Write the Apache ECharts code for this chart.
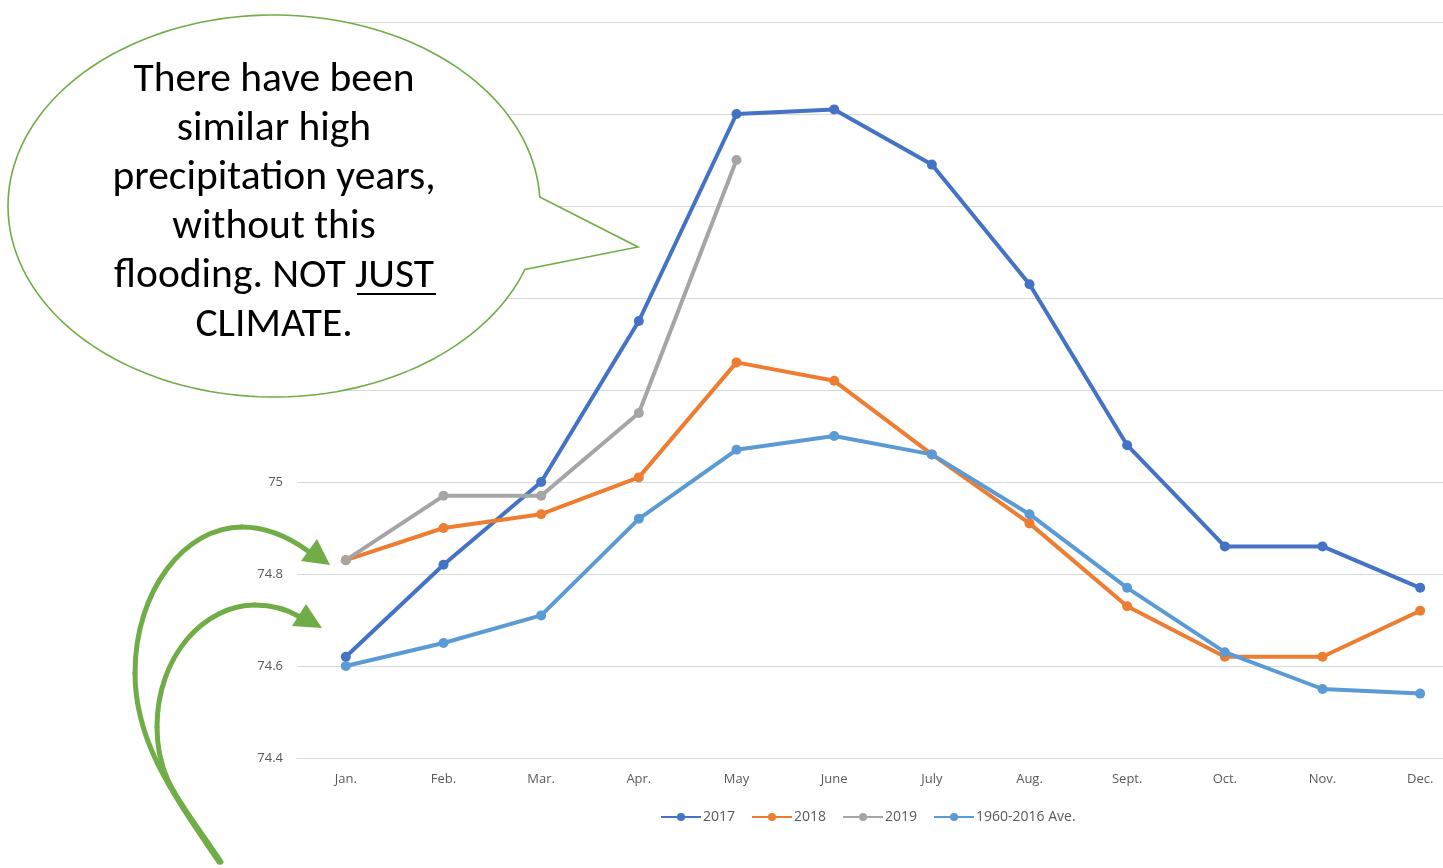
<!DOCTYPE html>
<html>
<head>
<meta charset="utf-8">
<title>Monthly levels 2017–2019 vs 1960–2016 average</title>
<script src="https://cdn.jsdelivr.net/npm/echarts@6/dist/echarts.min.js"></script>
<style>
  html, body { margin: 0; padding: 0; background: #ffffff; overflow: hidden; width: 1443px; height: 868px; }
  /* the plot runs a little past the right edge of the page */
  #chart { width: 1469px; height: 868px; }
</style>
</head>
<body>
<div id="chart"></div>
<script>
// Month categories along the x axis
const months = ['Jan.', 'Feb.', 'Mar.', 'Apr.', 'May', 'June', 'July', 'Aug.', 'Sept.', 'Oct.', 'Nov.', 'Dec.'];

// Monthly values per series
const values2017 = [74.62, 74.82, 75.00, 75.35, 75.80, 75.81, 75.69, 75.43, 75.08, 74.86, 74.86, 74.77];
const values2018 = [74.83, 74.90, 74.93, 75.01, 75.26, 75.22, 75.06, 74.91, 74.73, 74.62, 74.62, 74.72];
const values2019 = [74.83, 74.97, 74.97, 75.15, 75.70, null, null, null, null, null, null, null];
const valuesAvg  = [74.60, 74.65, 74.71, 74.92, 75.07, 75.10, 75.06, 74.93, 74.77, 74.63, 74.55, 74.54];

// Series names and colours
const seriesNames = ['2017', '2018', '2019', '1960-2016 Ave.'];
const seriesColors = ['#4472C4', '#ED7D31', '#A5A5A5', '#5B9BD5'];
const seriesValues = [values2017, values2018, values2019, valuesAvg];

// Y axis range
const yMin = 74.4, yMax = 76.0, yStep = 0.2;

// Speech bubble text lines
const bubbleLines = ['There have been', 'similar high', 'precipitation years,', 'without this', 'flooding. NOT JUST', 'CLIMATE.'];

const chart = echarts.init(document.getElementById('chart'), null, { renderer: 'canvas' });

const green = '#70AD47';
const labelFont = '"Open Sans", "Noto Sans", sans-serif';
const bubbleFont = 'Carlito, "Open Sans", "Noto Sans", sans-serif';

const series = seriesNames.map((name, i) => ({
  name: name,
  type: 'line',
  data: seriesValues[i],
  symbol: 'circle',
  symbolSize: 10,
  showSymbol: true,
  connectNulls: false,
  lineStyle: { width: 4, color: seriesColors[i] },
  itemStyle: { color: seriesColors[i] },
  emphasis: { disabled: true },
  z: 2
}));

// Outline of the speech bubble: an ellipse arc plus a pointed tail
function bubbleOutline() {
  const cx = 274, cy = 206, rx = 266, ry = 191;
  const pts = [];
  // arc runs from the tail's upper joint, over the top, round to its lower joint
  const a0 = Math.atan2((197 - cy) / ry, (539 - cx) / rx);
  const a1 = Math.atan2((269 - cy) / ry, (523 - cx) / rx) - Math.PI * 2;
  const steps = 160;
  for (let k = 0; k <= steps; k++) {
    const a = a0 + (a1 - a0) * k / steps;
    pts.push([cx + rx * Math.cos(a), cy + ry * Math.sin(a)]);
  }
  pts.push([638, 247]);
  return pts;
}

// Speech bubble text, one element per line
const textEls = bubbleLines.map((t, i) => ({
  type: 'text',
  x: 274,
  y: 81 + i * 49,
  z: 101,
  style: {
    text: t,
    font: '41.5px ' + bubbleFont,
    fill: '#000000',
    align: 'center',
    verticalAlign: 'middle'
  }
}));

// Cubic curve pieces for an arrow shaft
function curve(p0, c1, c2, p1) {
  return {
    type: 'bezierCurve',
    z: 100,
    shape: { x1: p0[0], y1: p0[1], cpx1: c1[0], cpy1: c1[1], cpx2: c2[0], cpy2: c2[1], x2: p1[0], y2: p1[1] },
    style: { fill: null, stroke: green, lineWidth: 5, lineCap: 'round' }
  };
}

const graphics = [
  {
    type: 'polygon',
    z: 100,
    shape: { points: bubbleOutline() },
    style: { fill: '#ffffff', stroke: green, lineWidth: 1.6 }
  },
  ...textEls,
  // Underline beneath "JUST"
  {
    type: 'line',
    z: 101,
    shape: { x1: 357, y1: 294, x2: 436, y2: 294 },
    style: { stroke: '#000000', lineWidth: 2 }
  },
  // Outer arrow, pointing at the 2018/2019 January start
  curve([219, 862], [170, 790], [135, 740], [135, 673]),
  curve([135, 673], [135, 590], [185, 527], [242, 527]),
  curve([242, 527], [268, 527], [290, 538], [308, 551]),
  {
    type: 'polygon',
    z: 100,
    shape: { points: [[301, 561], [317, 539], [330, 565]] },
    style: { fill: green }
  },
  // Inner arrow, pointing at the 2017/average January start
  curve([221, 862], [180, 800], [157, 780], [157, 727]),
  curve([157, 727], [157, 655], [205, 605], [255, 605]),
  curve([255, 605], [275, 605], [290, 611], [300, 617]),
  {
    type: 'polygon',
    z: 100,
    shape: { points: [[292, 626], [306, 604], [322, 628]] },
    style: { fill: green }
  }
];

chart.setOption({
  animation: false,
  backgroundColor: '#ffffff',
  color: seriesColors,
  grid: { left: 297, right: 0, top: 22, bottom: 110, containLabel: false },
  legend: {
    data: seriesNames,
    left: 655,
    top: 805,
    itemWidth: 40,
    itemHeight: 10,
    itemGap: 16,
    textStyle: { color: '#595959', fontSize: 14, fontFamily: labelFont, padding: [0, 0, 0, -3] }
  },
  xAxis: {
    type: 'category',
    data: months,
    boundaryGap: true,
    axisLine: { show: true, lineStyle: { color: '#d9d9d9', width: 1 } },
    axisTick: { show: false },
    axisLabel: { color: '#595959', fontSize: 13, fontFamily: labelFont, margin: 15 },
    splitLine: { show: false }
  },
  yAxis: {
    type: 'value',
    min: yMin,
    max: yMax,
    interval: yStep,
    axisLine: { show: false },
    axisTick: { show: false },
    axisLabel: { color: '#595959', fontSize: 13, fontFamily: labelFont, margin: 14 },
    splitLine: { show: true, lineStyle: { color: '#d9d9d9', width: 1 } }
  },
  series: series,
  graphic: graphics
});
</script>
</body>
</html>
